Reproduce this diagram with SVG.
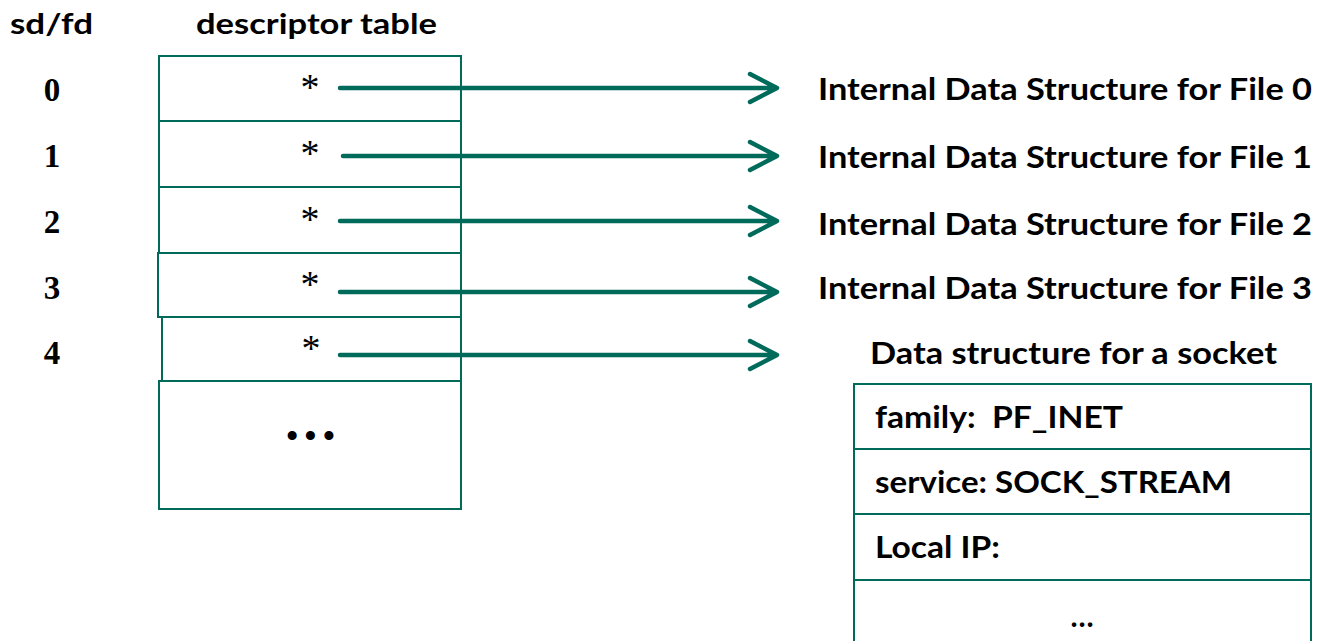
<svg xmlns="http://www.w3.org/2000/svg" width="1320" height="641" viewBox="0 0 1320 641">
  <style>
    .cell { fill: #ffffff; stroke: #006b5b; stroke-width: 2; }
    .hdr { font-family: Lato, "Liberation Sans", sans-serif; font-weight: bold; font-size: 29px; fill: #000; }
    .lbl { font-family: Lato, "Liberation Sans", sans-serif; font-weight: bold; font-size: 30px; fill: #000; }
    .num { font-family: "Liberation Serif", serif; font-weight: bold; font-size: 33px; fill: #000; text-anchor: middle; }
    .ptr { font-family: "Liberation Serif", serif; font-size: 38px; fill: #000; text-anchor: middle; }
    .arrow { fill: none; stroke: #006b5b; stroke-width: 4.5; stroke-linecap: round; stroke-linejoin: round; }
  </style>

  <!-- column headings -->
  <g id="headings">
    <text class="hdr" x="10" y="34" textLength="83" lengthAdjust="spacingAndGlyphs">sd/fd</text>
    <text class="hdr" x="196" y="34" textLength="241" lengthAdjust="spacingAndGlyphs">descriptor table</text>
  </g>

  <!-- descriptor indices -->
  <g id="indices">
    <text class="num" x="52" y="101">0</text>
    <text class="num" x="52" y="167">1</text>
    <text class="num" x="52" y="233">2</text>
    <text class="num" x="52" y="299">3</text>
    <text class="num" x="52" y="364">4</text>
  </g>

  <!-- descriptor table rows -->
  <g id="table">
    <g id="slot0"><rect class="cell" x="159" y="56" width="302" height="65"/><text class="ptr" x="310" y="100">*</text></g>
    <g id="slot1"><rect class="cell" x="159" y="121" width="302" height="66"/><text class="ptr" x="310" y="166">*</text></g>
    <g id="slot2"><rect class="cell" x="159" y="187" width="302" height="66"/><text class="ptr" x="310" y="232">*</text></g>
    <g id="slot3"><rect class="cell" x="158" y="253" width="303" height="64"/><text class="ptr" x="310" y="297">*</text></g>
    <g id="slot4"><rect class="cell" x="162" y="317" width="299" height="64"/><text class="ptr" x="311" y="361">*</text></g>
    <g id="slot-rest"><rect class="cell" x="159" y="381" width="302" height="128"/>
      <text x="313" y="449" font-family="Liberation Serif, serif" font-size="38" text-anchor="middle" letter-spacing="5">•••</text></g>
  </g>

  <!-- pointers from descriptor slots -->
  <g id="connectors">
    <path class="arrow" d="M340 88 H775 M750 74 L777 88 L750 102"/>
    <path class="arrow" d="M343 156 H775 M750 142 L777 156 L750 170"/>
    <path class="arrow" d="M340 221 H775 M750 207 L777 221 L750 235"/>
    <path class="arrow" d="M340 292 H775 M750 278 L777 292 L750 306"/>
    <path class="arrow" d="M340 355 H775 M750 341 L777 355 L750 369"/>
  </g>

  <!-- targets -->
  <g id="file0"><text class="lbl" x="818" y="100" textLength="494" lengthAdjust="spacingAndGlyphs">Internal Data Structure for File 0</text></g>
  <g id="file1"><text class="lbl" x="818" y="168" textLength="494" lengthAdjust="spacingAndGlyphs">Internal Data Structure for File 1</text></g>
  <g id="file2"><text class="lbl" x="818" y="235" textLength="494" lengthAdjust="spacingAndGlyphs">Internal Data Structure for File 2</text></g>
  <g id="file3"><text class="lbl" x="818" y="299" textLength="494" lengthAdjust="spacingAndGlyphs">Internal Data Structure for File 3</text></g>

  <!-- socket structure -->
  <g id="socket">
    <text class="lbl" x="870" y="364" textLength="407" lengthAdjust="spacingAndGlyphs">Data structure for a socket</text>
    <rect class="cell" x="854" y="384" width="457" height="65"/>
    <text class="lbl" x="875" y="428" textLength="248" lengthAdjust="spacingAndGlyphs">family:&#160; PF_INET</text>
    <rect class="cell" x="854" y="449" width="457" height="65"/>
    <text class="lbl" x="875" y="493" textLength="357" lengthAdjust="spacingAndGlyphs">service: SOCK_STREAM</text>
    <rect class="cell" x="854" y="514" width="457" height="66"/>
    <text class="lbl" x="875" y="558" textLength="125" lengthAdjust="spacingAndGlyphs">Local IP:</text>
    <rect class="cell" x="854" y="580" width="457" height="80"/>
    <text class="lbl" x="1082" y="627" text-anchor="middle">…</text>
  </g>
</svg>
